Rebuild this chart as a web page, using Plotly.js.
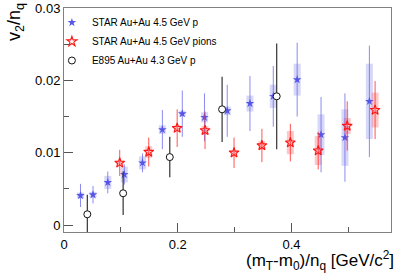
<!DOCTYPE html>
<html>
<head>
<meta charset="utf-8">
<script src="https://cdn.plot.ly/plotly-3.0.1.min.js"></script>
<style>
html,body{margin:0;padding:0;background:#fff;}
#chart{width:399px;height:276px;}
</style>
</head>
<body>
<div id="chart"></div>
<script>
// STAR Au+Au 4.5 GeV protons
var starP_x    = [0.029,0.051,0.077,0.106,0.138,0.173,0.208,0.247,0.287,0.327,0.368,0.410,0.452,0.494,0.537];
var starP_y    = [0.0041,0.0042,0.0059,0.0070,0.0086,0.0132,0.0154,0.0149,0.0158,0.0168,0.0178,0.0201,0.0125,0.0121,0.0171];
var starP_stat = [0.0016,0.0012,0.0015,0.0014,0.0013,0.0027,0.0032,0.0033,0.0036,0.0038,0.0042,0.0051,0.0052,0.0061,0.0077];
var starP_sys  = [0.0004,0.0004,0.0009,0.0011,0.0009,0.0006,0.0004,0.0007,0.0006,0.0011,0.0016,0.0022,0.0028,0.0039,0.0052];

// STAR Au+Au 4.5 GeV pions
var starPi_x    = [0.098,0.149,0.199,0.248,0.299,0.348,0.398,0.447,0.498,0.547];
var starPi_y    = [0.0086,0.0101,0.0134,0.0131,0.0100,0.0110,0.0114,0.0103,0.0137,0.0159];
var starPi_stat = [0.0018,0.0020,0.0026,0.0026,0.0021,0.0023,0.0026,0.0026,0.0034,0.0040];
var starPi_sys  = [0.0003,0.0008,0.0004,0.0006,0.0003,0.0006,0.0016,0.0020,0.0011,0.0024];

// E895 Au+Au 4.3 GeV protons
var e895_x    = [0.041,0.104,0.186,0.278,0.374];
var e895_y    = [0.0015,0.0044,0.0094,0.0160,0.0178];
var e895_stat = [0.0027,0.0030,0.0028,0.0045,0.0073];

var seriesNames = ['STAR Au+Au 4.5 GeV p','STAR Au+Au 4.5 GeV pions','E895 Au+Au 4.3 GeV p'];

var FONT = 'Liberation Sans, Arial, Helvetica, sans-serif';

var traces = [
  { // blue systematics
    x: starP_x, y: starP_y, type:'scatter', mode:'markers', showlegend:false, hoverinfo:'skip',
    marker:{size:1, opacity:0},
    error_y:{type:'data', array:starP_sys, visible:true, thickness:7, width:0, color:'rgba(110,110,235,0.28)'}
  },
  { // red systematics
    x: starPi_x, y: starPi_y, type:'scatter', mode:'markers', showlegend:false, hoverinfo:'skip',
    marker:{size:1, opacity:0},
    error_y:{type:'data', array:starPi_sys, visible:true, thickness:7, width:0, color:'rgba(255,70,70,0.30)'}
  },
  {
    name: seriesNames[0], x: starP_x, y: starP_y, type:'scatter', mode:'markers',
    marker:{symbol:'star', size:6.5, color:'rgb(85,85,230)', line:{width:0}},
    error_y:{type:'data', array:starP_stat, visible:true, thickness:1, width:0, color:'rgba(100,100,235,0.75)'}
  },
  {
    name: seriesNames[1], x: starPi_x, y: starPi_y, type:'scatter', mode:'markers',
    marker:{symbol:'star-open', size:7.5, color:'rgb(255,20,20)', line:{width:1.1, color:'rgb(255,20,20)'}},
    error_y:{type:'data', array:starPi_stat, visible:true, thickness:1, width:0, color:'rgba(255,40,40,0.8)'}
  },
  {
    name: seriesNames[2], x: e895_x, y: e895_y, type:'scatter', mode:'markers',
    marker:{symbol:'circle', size:7, color:'#ffffff', line:{width:1, color:'#111'}},
    error_y:{type:'data', array:e895_stat, visible:true, thickness:1.2, width:0, color:'#333'}
  }
];

var layout = {
  width:399, height:276,
  margin:{l:64, r:8, t:8, b:44, pad:0},
  paper_bgcolor:'#fff', plot_bgcolor:'#fff',
  font:{family:FONT, color:'#000'},
  showlegend:true,
  legend:{x:-0.037, y:1, xanchor:'left', yanchor:'top', xref:'paper', yref:'paper',
          bgcolor:'rgba(0,0,0,0)', borderwidth:0, font:{size:10, family:FONT, color:'#000'},
          itemwidth:30, tracegroupgap:0},
  xaxis:{
    range:[0,0.575], showgrid:false, zeroline:false,
    showline:true, linecolor:'#808080', linewidth:1, mirror:true,
    ticks:'inside', ticklen:9, tickwidth:1, tickcolor:'#555',
    dtick:0.2, tick0:0, tickfont:{size:13, family:FONT},
    minor:{dtick:0.1, ticks:'inside', ticklen:5, tickcolor:'#555', showgrid:false}
  },
  yaxis:{
    range:[-0.00095,0.03], showgrid:false, zeroline:false,
    showline:true, linecolor:'#808080', linewidth:1, mirror:true,
    ticks:'inside', ticklen:9, tickwidth:1, tickcolor:'#555',
    dtick:0.01, tick0:0, tickfont:{size:13, family:FONT},
    minor:{dtick:0.005, ticks:'inside', ticklen:5, tickcolor:'#555', showgrid:false}
  },
  annotations:[
    {text:'(m<sub>T</sub>-m<sub>0</sub>)/n<sub>q</sub> [GeV/c<sup>2</sup>]', xref:'paper', yref:'paper',
     x:1, y:0, xanchor:'right', yanchor:'top', xshift:5, yshift:-14, showarrow:false,
     font:{size:17, family:FONT, color:'#000'}},
    {text:'v<sub>2</sub>/n<sub>q</sub>', xref:'paper', yref:'paper', textangle:-90,
     x:0, y:1, xanchor:'center', yanchor:'top', xshift:-49, yshift:7, showarrow:false,
     font:{size:18, family:FONT, color:'#000'}}
  ]
};

Plotly.newPlot('chart', traces, layout, {displayModeBar:false, staticPlot:true});
</script>
</body>
</html>
